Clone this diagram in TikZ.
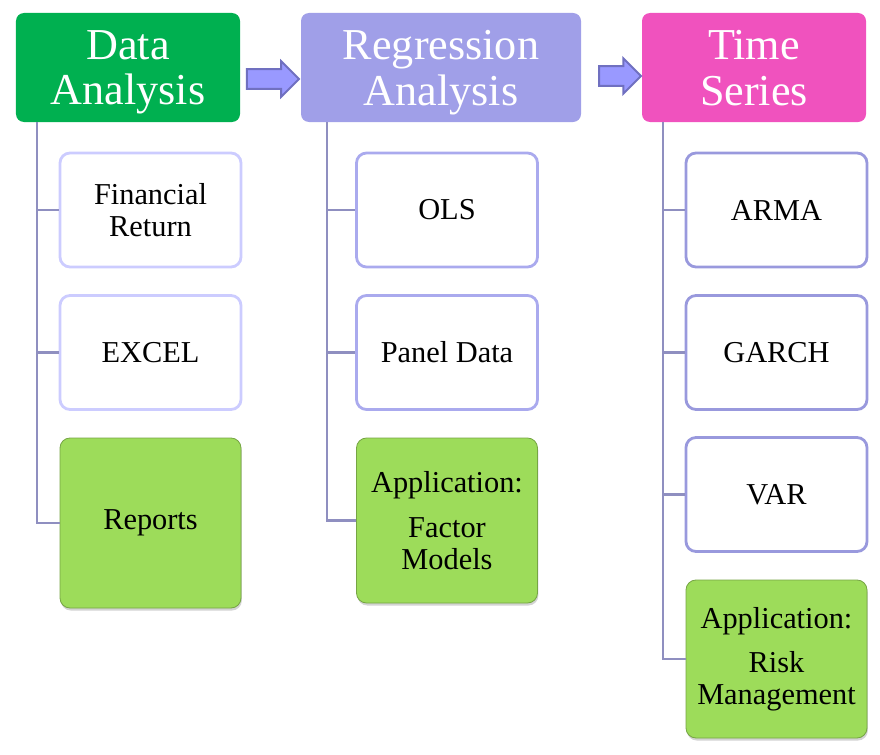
\documentclass[tikz,border=0pt]{standalone}
\usepackage{fontspec}
\setmainfont{Liberation Serif}
\usetikzlibrary{positioning,shapes.arrows,shadows}

\definecolor{hdgreen}{HTML}{00B050}
\definecolor{hdviolet}{HTML}{A09FE8}
\definecolor{hdpink}{HTML}{F052BE}
\definecolor{trunkc}{HTML}{8F8FC0}
\definecolor{bdlight}{HTML}{CCCCFF}
\definecolor{bdmid}{HTML}{AAAAEE}
\definecolor{bddark}{HTML}{9999DD}
\definecolor{appgreen}{HTML}{9DDC5A}
\definecolor{arrfill}{HTML}{9999FF}
\definecolor{arrdraw}{HTML}{7070C0}

\begin{document}
\begin{tikzpicture}[
    hd/.style={rectangle, rounded corners=0.2cm, minimum height=2.725cm,
               inner sep=0pt, text=white, align=center, text depth=0pt,
               font=\fontsize{31.4}{32.6}\selectfont},
    bx/.style={rectangle, rounded corners=0.25cm, draw, line width=2pt,
               fill=white, minimum width=4.525cm, minimum height=2.85cm,
               inner sep=0pt, align=center,
               font=\fontsize{21.6}{22.7}\selectfont},
    app/.style={bx, draw=appgreen!75!black, line width=0.6pt, fill=appgreen,
                drop shadow={opacity=0.35, shadow xshift=0.6pt, shadow yshift=-1.8pt}},
    blk/.style={single arrow, draw=arrdraw, fill=arrfill, line width=1.4pt,
                inner xsep=0pt, inner ysep=0.22cm, single arrow head extend=0.2cm},
    tr/.style={draw=trunkc, line width=2pt},
  ]
  \useasboundingbox (0,0) rectangle (22,-18.85);
  \node[hd, fill=hdgreen, minimum width=5.6cm] (da) at (3.2, -1.6875) {Data\\Analysis};
  \node[hd, fill=hdviolet, minimum width=7.0cm] (ra) at (11.025, -1.6875) {Regression\\Analysis};
  \node[hd, fill=hdpink, minimum width=5.6cm] (ts) at (18.85, -1.6875) {Time\\Series};
  \node[blk, minimum height=1.3cm] (a1) at (6.7, -1.975) {};
  \node[blk, minimum height=1.05cm] (a2) at (15.38, -1.9) {};
  \node[bx, draw=bdlight] (fr) at (3.7625, -5.25) {Financial\\Return};
  \node[bx, draw=bdlight] (ex) at (3.7625, -8.8125) {EXCEL};
  \node[app, minimum height=4.25cm] (rp) at (3.7625, -13.075) {Reports};
  \node[bx, draw=bdmid] (ols) at (11.175, -5.25) {OLS};
  \node[bx, draw=bdmid] (pd) at (11.175, -8.8125) {Panel Data};
  \node[app, minimum height=4.125cm] (fm) at (11.175, -13.0125) {Application:\\[9pt]Factor\\Models};
  \node[bx, draw=bddark] (arma) at (19.4125, -5.25) {ARMA};
  \node[bx, draw=bddark] (garch) at (19.4125, -8.8125) {GARCH};
  \node[bx, draw=bddark] (var) at (19.4125, -12.3625) {VAR};
  \node[app, minimum height=3.95cm] (rm) at (19.4125, -16.475) {Application:\\[9pt]Risk\\Management};
  \coordinate (t1) at (0.925, -3.05);
  \coordinate (t2) at (8.175, -3.05);
  \coordinate (t3) at (16.575, -3.05);
  \draw[tr] (t1) |- (fr.west);
  \draw[tr] (t1) |- (ex.west);
  \draw[tr] (t1) |- (rp.west);
  \draw[tr] (t2) |- (ols.west);
  \draw[tr] (t2) |- (pd.west);
  \draw[tr] (t2) |- (fm.west);
  \draw[tr] (t3) |- (arma.west);
  \draw[tr] (t3) |- (garch.west);
  \draw[tr] (t3) |- (var.west);
  \draw[tr] (t3) |- (rm.west);
\end{tikzpicture}
\end{document}
